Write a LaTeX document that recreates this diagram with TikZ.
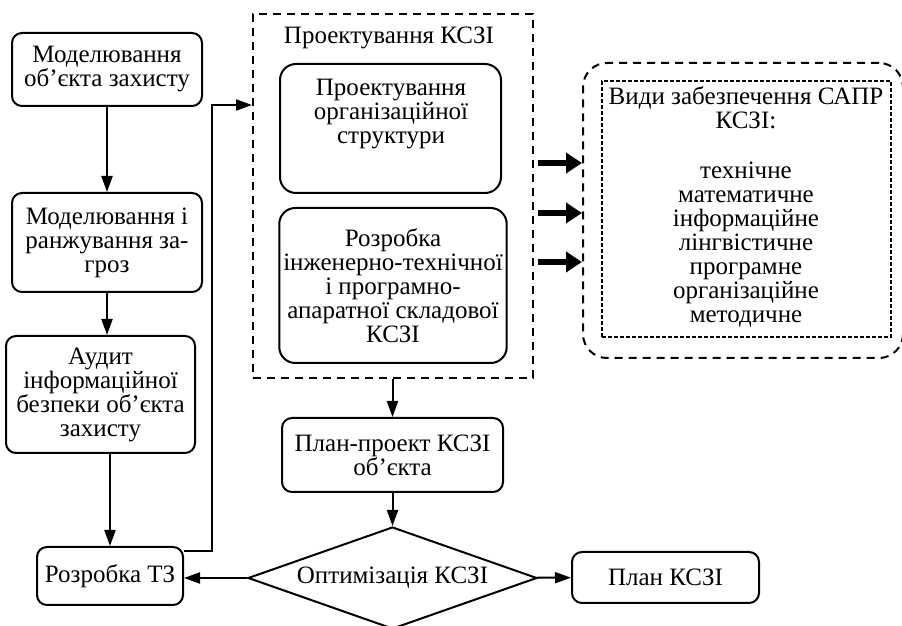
\documentclass[tikz,border=0pt]{standalone}
\usepackage{fontspec}
\setmainfont{Liberation Serif}
\usetikzlibrary{arrows.meta,shapes.geometric}

\begin{document}
\begin{tikzpicture}[x=0.5pt,y=-0.5pt,line width=1pt,
 font=\fontsize{12.5}{12}\selectfont,
 stepbox/.style={draw,rounded corners=5pt,align=center,inner sep=2pt},
 groupbox/.style={draw,dash pattern=on 4pt off 3pt},
 decision/.style={draw,diamond,aspect=2.83,align=center,inner sep=0pt},
 arr/.style={-{Triangle[length=8pt,width=5.5pt]}},
 fatarr/.style={line width=3pt,-{Triangle[length=8pt,width=10pt]}}]
\useasboundingbox (0,0) rectangle (902,626);
% left column
\node[stepbox,minimum width=95pt,minimum height=36.5pt] (objmodel) at (107,69.5) {Моделювання\\об’єкта захисту};
\node[stepbox,minimum width=95pt,minimum height=49.5pt] (threats) at (107,242.5) {Моделювання і\\ранжування за-\\гроз};
\node[stepbox,minimum width=94.5pt,minimum height=58.5pt] (audit) at (100.5,394.5) {Аудит\\інформаційної\\безпеки об’єкта\\захисту};
\node[stepbox,minimum width=73pt,minimum height=29pt] (tor) at (110,576) {Розробка ТЗ};
% design group
\node[groupbox,minimum width=140pt,minimum height=182pt] (design) at (393,196) {};
\node (designtitle) at (389,38) {Проектування КСЗІ};
\node[stepbox,rounded corners=8pt,minimum width=110.5pt,minimum height=64.5pt] (orgbox) at (390.5,128.5) {};
\node[align=center] (orgtext) at (391,114.5) {Проектування\\організаційної\\структури};
\node[stepbox,rounded corners=8pt,minimum width=110pt,minimum height=77.5pt] (hwsw) at (393,285.5) {Розробка\\інженерно-технічної\\і програмно-\\апаратної складової\\КСЗІ};
\node[stepbox,minimum width=110.5pt,minimum height=37pt] (draft) at (392.5,455) {План-проект КСЗІ\\об’єкта};
\node[decision,minimum width=144.5pt,minimum height=51pt] (optim) at (392.5,578) {Оптимізація КСЗІ};
\node[stepbox,minimum width=93.5pt,minimum height=25.5pt] (plan) at (665.5,577.5) {План КСЗІ};
% CAD support kinds
\node[groupbox,rounded corners=12pt,minimum width=160pt,minimum height=147.5pt] (cad) at (743,210.5) {};
\node[draw,line width=0.6pt,dash pattern=on 2pt off 1pt,minimum width=144.5pt,minimum height=128pt] (kinds) at (746.5,209) {};
\node[align=center] (kindstext) at (746,207) {Види забезпечення САПР\\КСЗІ:\\[13pt]технічне\\математичне\\інформаційне\\лінгвістичне\\програмне\\організаційне\\методичне};
% connectors
\draw[arr] (objmodel) -- (threats);
\draw[arr] (threats.south) -- (threats.south |- audit.north);
\draw[arr] (audit.south -| tor.north) -- (tor.north);
\draw[arr] ([yshift=-2.5pt]tor.north east) -- ++(28,0) |- ([yshift=-46pt]design.north west);
\draw[arr] (design.south -| draft.north) -- (draft.north);
\draw[arr] (draft) -- (optim);
\draw[arr] (optim.west) -- (optim.west -| tor.east);
\draw[arr] (optim) -- (plan);
\foreach \yy in {163,213,262}
  \draw[fatarr] ([xshift=2pt]design.east |- 0,\yy) -- (cad.west |- 0,\yy);
\end{tikzpicture}
\end{document}
